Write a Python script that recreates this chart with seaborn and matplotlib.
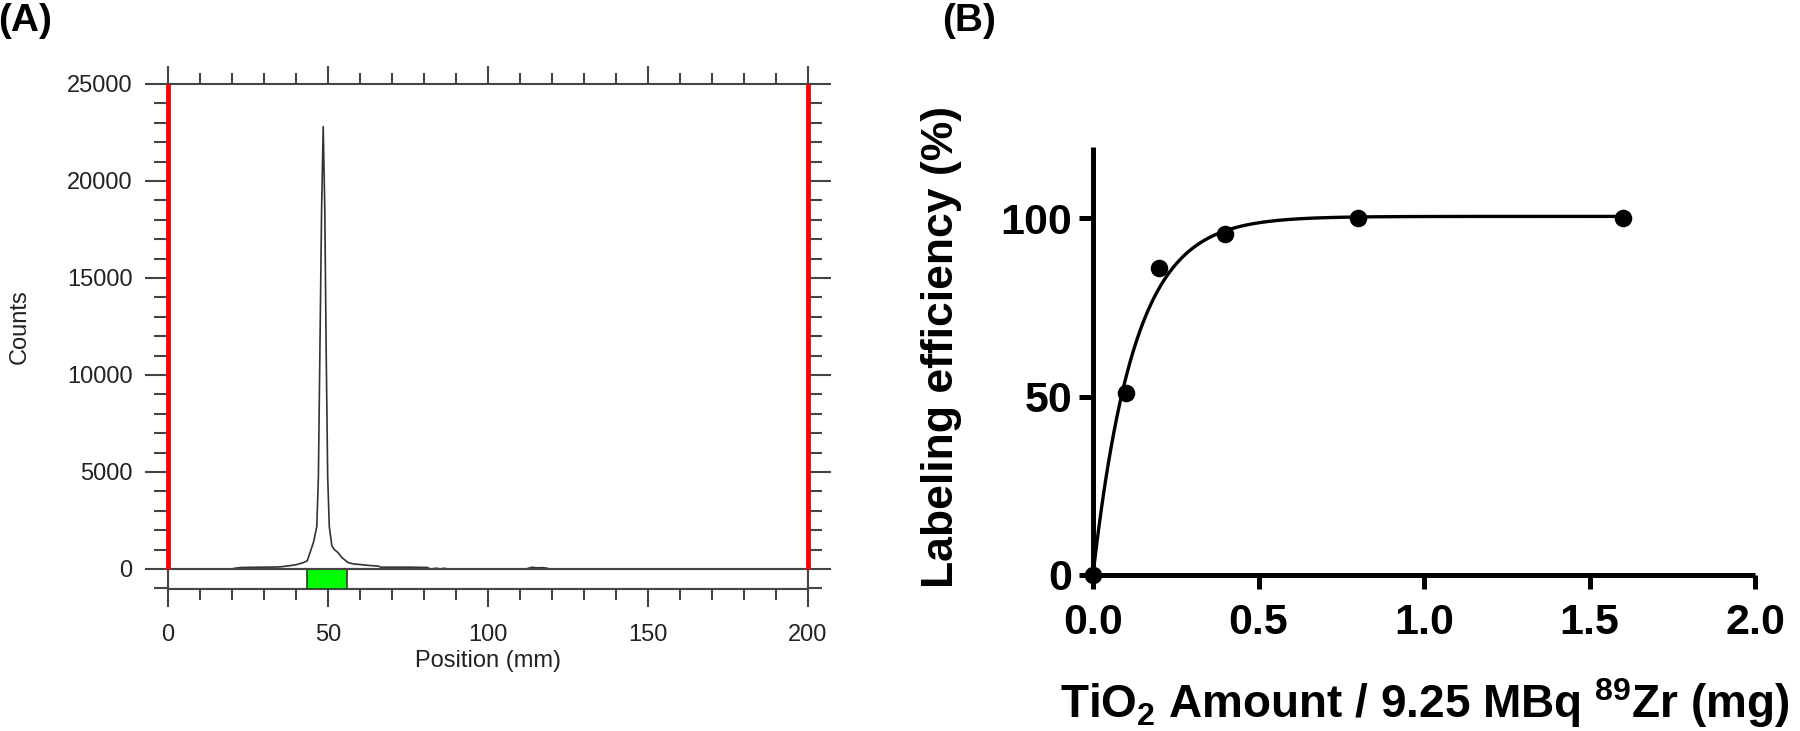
import numpy as np
import matplotlib
matplotlib.use("Agg")
import matplotlib.pyplot as plt
from matplotlib.patches import Rectangle
from matplotlib.ticker import MultipleLocator, FixedLocator
import seaborn as sns

# ---------------- Panel A data (radio-TLC trace) ----------------
position_mm = [0, 20, 21, 23, 28, 33, 35, 38, 40, 42.3, 43.5, 44.4, 45.5, 46.5,
               47.0, 47.5, 48.0, 48.5, 49.0, 49.4, 49.9, 50.4, 51.2, 52.0, 53.1,
               54.3, 55.8, 56.3, 58, 60, 63, 65.7, 66.5, 70, 75, 81, 82, 84, 85,
               86.5, 87, 112, 113, 114, 115, 117, 118.5, 119, 200]
counts = [0, 0, 40, 80, 90, 100, 110, 170, 220, 330, 420, 850, 1400, 2190,
          4770, 11670, 18530, 22800, 18530, 11670, 4770, 2190, 1200, 1000, 850,
          600, 390, 330, 260, 230, 180, 150, 95, 95, 95, 80, 0, 40, 0,
          40, 0, 0, 60, 90, 60, 70, 40, 0, 0]
roi_start_mm, roi_end_mm = 43.5, 56.0
boundary_mm = [0, 200]

# ---------------- Panel B data ----------------
tio2_mg = [0.0, 0.1, 0.2, 0.4, 0.8, 1.6]
labeling_eff = [0.0, 51.0, 86.0, 95.5, 100.0, 100.0]

sns.set_theme(style="ticks")
plt.rcParams['font.family'] = ['Liberation Sans', 'DejaVu Sans']
plt.rcParams['mathtext.fontset'] = 'custom'
plt.rcParams['mathtext.rm'] = 'Liberation Sans'
plt.rcParams['mathtext.bf'] = 'Liberation Sans:bold'

W, H = 1800, 731
fig = plt.figure(figsize=(W / 100, H / 100), dpi=100)

# ================= Panel A =================
gray = '#444444'
strip = 1031
axA = fig.add_axes([168 / W, 1 - 589 / H, 640 / W, 505 / H])
axA.set_xlim(0, 200)
axA.set_ylim(-strip, 25000)
for s in axA.spines.values():
    s.set_color(gray)
    s.set_linewidth(1.5)

sns.lineplot(x=position_mm, y=counts, ax=axA, color='#333333', lw=1.2,
             zorder=3)
axA.axhline(0, color=gray, lw=1.5, zorder=4)
axA.add_patch(Rectangle((0, -strip), 200, strip, facecolor='white',
                        edgecolor=gray, lw=1.5, zorder=2))
axA.add_patch(Rectangle((roi_start_mm, -strip), roi_end_mm - roi_start_mm,
                        strip, facecolor='#00ff00', edgecolor='#333333',
                        lw=1.2, zorder=3))
for b in boundary_mm:
    axA.plot([b, b], [0, 25000], color='#ff0000', lw=3.5, zorder=5,
             solid_capstyle='butt', clip_on=False)

axA.xaxis.set_major_locator(MultipleLocator(50))
axA.xaxis.set_minor_locator(MultipleLocator(10))
axA.yaxis.set_major_locator(FixedLocator([0, 5000, 10000, 15000, 20000, 25000]))
axA.yaxis.set_minor_locator(MultipleLocator(1000))
axA.tick_params(axis='both', which='both', direction='out', colors=gray,
                labelcolor='#222222', width=1.5, top=True, right=True,
                labeltop=False, labelright=False)
axA.tick_params(axis='x', which='major', length=13, pad=12, labelsize=17)
axA.tick_params(axis='x', which='minor', length=8)
axA.tick_params(axis='y', which='major', length=16.5, pad=9, labelsize=17)
axA.tick_params(axis='y', which='minor', length=10)
axA.set_xlabel('Position (mm)', fontsize=17, color='#222222')
axA.set_ylabel('Counts', fontsize=17, color='#222222')
axA.xaxis.label.set_va('center')
axA.yaxis.label.set_va('center')
axA.xaxis.set_label_coords(0.5, (589 - 661) / 505)
axA.yaxis.set_label_coords((20 - 168) / 640, (589 - 327) / 505)

# ================= Panel B =================
bold_font = ['Liberation Sans', 'DejaVu Sans']
axB = fig.add_axes([1093 / W, 1 - 575 / H, 662 / W, 428 / H])
axB.set_xlim(0, 2.0)
axB.set_ylim(0, 120)
for side in ['top', 'right']:
    axB.spines[side].set_visible(False)
for side in ['left', 'bottom']:
    axB.spines[side].set_linewidth(3.6)
    axB.spines[side].set_color('black')
    axB.spines[side].set_capstyle('butt')

# one-phase association fit derived from the data points
xd = np.asarray(tio2_mg)
yd = np.asarray(labeling_eff)
best = None
for k in np.linspace(1, 20, 1901):
    basis = 1 - np.exp(-k * xd)
    ymax = (basis @ yd) / (basis @ basis)
    err = np.sum((ymax * basis - yd) ** 2)
    if best is None or err < best[0]:
        best = (err, k, ymax)
_, k_fit, ymax_fit = best
x_fit = np.linspace(0, max(tio2_mg), 400)
y_fit = ymax_fit * (1 - np.exp(-k_fit * x_fit))

sns.lineplot(x=x_fit, y=y_fit, ax=axB, color='black', lw=2.4, zorder=3)
sns.scatterplot(x=tio2_mg, y=labeling_eff, ax=axB, color='black', s=160,
                edgecolor='black', linewidth=0, zorder=5, clip_on=False)

axB.set_xticks([0.0, 0.5, 1.0, 1.5, 2.0])
axB.set_xticklabels(['0.0', '0.5', '1.0', '1.5', '2.0'])
axB.set_yticks([0, 50, 100])
axB.tick_params(axis='both', which='major', direction='out', length=10,
                width=3.6, color='black', labelcolor='black', labelsize=31)
axB.tick_params(axis='x', pad=10)
axB.tick_params(axis='y', pad=5)
for lab in axB.get_xticklabels() + axB.get_yticklabels():
    lab.set_fontweight('bold')
    lab.set_family(bold_font)

axB.set_ylabel('Labeling efficiency (%)', fontsize=32, fontweight='bold',
               family=bold_font, color='black')
axB.set_xlabel(r'TiO$_\mathbf{2}$ Amount / 9.25 MBq $^\mathbf{89}$Zr (mg)',
               fontsize=33, fontweight='bold', family=bold_font, color='black')
axB.xaxis.label.set_va('center')
axB.yaxis.label.set_va('center')
axB.yaxis.set_label_coords((941 - 1093) / 662, (575 - 347) / 428)
axB.xaxis.set_label_coords((1425 - 1093) / 662, (575 - 703) / 428)

# panel letters
letter_font = ['Liberation Sans', 'DejaVu Sans']
fig.text(-2 / W, 1 - 3 / H, '(A)', fontsize=28, fontweight='bold',
         family=letter_font, ha='left', va='top', color='black')
fig.text(942 / W, 1 - 3 / H, '(B)', fontsize=28, fontweight='bold',
         family=letter_font, ha='left', va='top', color='black')

fig.savefig('out.png', dpi=100)
